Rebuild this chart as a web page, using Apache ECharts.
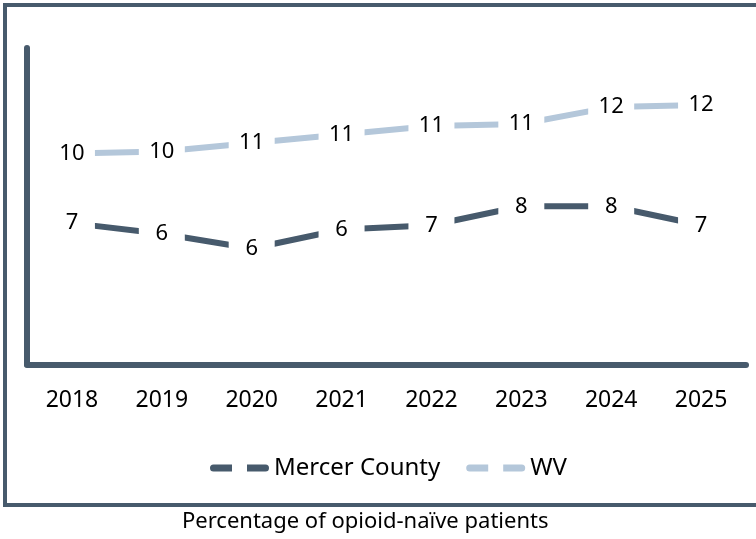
<!DOCTYPE html>
<html>
<head>
<meta charset="utf-8">
<script src="https://cdn.jsdelivr.net/npm/echarts@6/dist/echarts.min.js"></script>
<style>
  html, body { margin: 0; padding: 0; background: #fff; }
  #chart { width: 756px; height: 539px; }
</style>
</head>
<body>
<div id="chart"></div>
<script>
// data (labels shown rounded)
var years = ["2018", "2019", "2020", "2021", "2022", "2023", "2024", "2025"];
var mercer = [6.7, 6.2, 5.5, 6.4, 6.6, 7.5, 7.5, 6.6];
var wv = [10.0, 10.1, 10.5, 10.9, 11.3, 11.4, 12.2, 12.3];

var darkColor = "#475a6c";
var lightColor = "#b4c7da";
var fontName = "Noto Sans";

// label with white box so the line looks broken around each point
var pointLabel = {
    show: true,
    position: "inside",
    formatter: function(p) { return Math.round(p.value); },
    color: "#000",
    fontFamily: fontName,
    fontSize: 22,
    backgroundColor: "#fff",
    width: 46,
    height: 24,
    lineHeight: 24,
    align: "center",
    verticalAlign: "middle",
    padding: 0
};

var legendIcon = "path://M3.5,0 H22 V7 H3.5 A3.5,3.5 0 0 1 3.5,0 Z M37,0 H55.5 A3.5,3.5 0 0 1 55.5,7 H37 Z";

var chart = echarts.init(document.getElementById("chart"), null, { renderer: "canvas" });

var option = {
    animation: false,
    backgroundColor: "#fff",
    title: {
        text: "Percentage of opioid-naïve patients",
        left: 182,
        top: 511,
        padding: 0,
        textStyle: { fontFamily: fontName, fontSize: 22, fontWeight: "normal", color: "#000" }
    },
    legend: {
        data: ["Mercer County", "WV"],
        left: 205,
        top: 451,
        icon: legendIcon,
        itemWidth: 59,
        itemHeight: 7,
        itemGap: 26,
        itemStyle: { borderWidth: 0 },
        textStyle: { fontFamily: fontName, fontSize: 24, color: "#000" }
    },
    graphic: [{
        type: "rect",
        shape: { x: 5, y: 5, width: 780, height: 500 },
        style: { fill: null, stroke: darkColor, lineWidth: 4 },
        z: -1
    }],
    grid: { left: 27, right: 10, top: 48, bottom: 174.5 },
    xAxis: {
        type: "category",
        data: years,
        boundaryGap: true,
        axisLine: { lineStyle: { color: darkColor, width: 6 } },
        axisTick: { show: false },
        axisLabel: { color: "#000", fontFamily: fontName, fontSize: 23, margin: 24 }
    },
    yAxis: {
        type: "value",
        min: 0,
        max: 15,
        axisLine: { show: true, lineStyle: { color: darkColor, width: 6 } },
        axisTick: { show: false },
        axisLabel: { show: false },
        splitLine: { show: false }
    },
    series: [
        {
            name: "Mercer County",
            type: "line",
            data: mercer,
            symbol: "circle",
            symbolSize: 2,
            color: darkColor,
            itemStyle: { color: darkColor, borderWidth: 0 },
            lineStyle: { color: darkColor, width: 6 },
            label: pointLabel
        },
        {
            name: "WV",
            type: "line",
            data: wv,
            symbol: "circle",
            symbolSize: 2,
            color: lightColor,
            itemStyle: { color: lightColor, borderWidth: 0 },
            lineStyle: { color: lightColor, width: 6 },
            label: pointLabel
        }
    ]
};

chart.setOption(option);
</script>
</body>
</html>
